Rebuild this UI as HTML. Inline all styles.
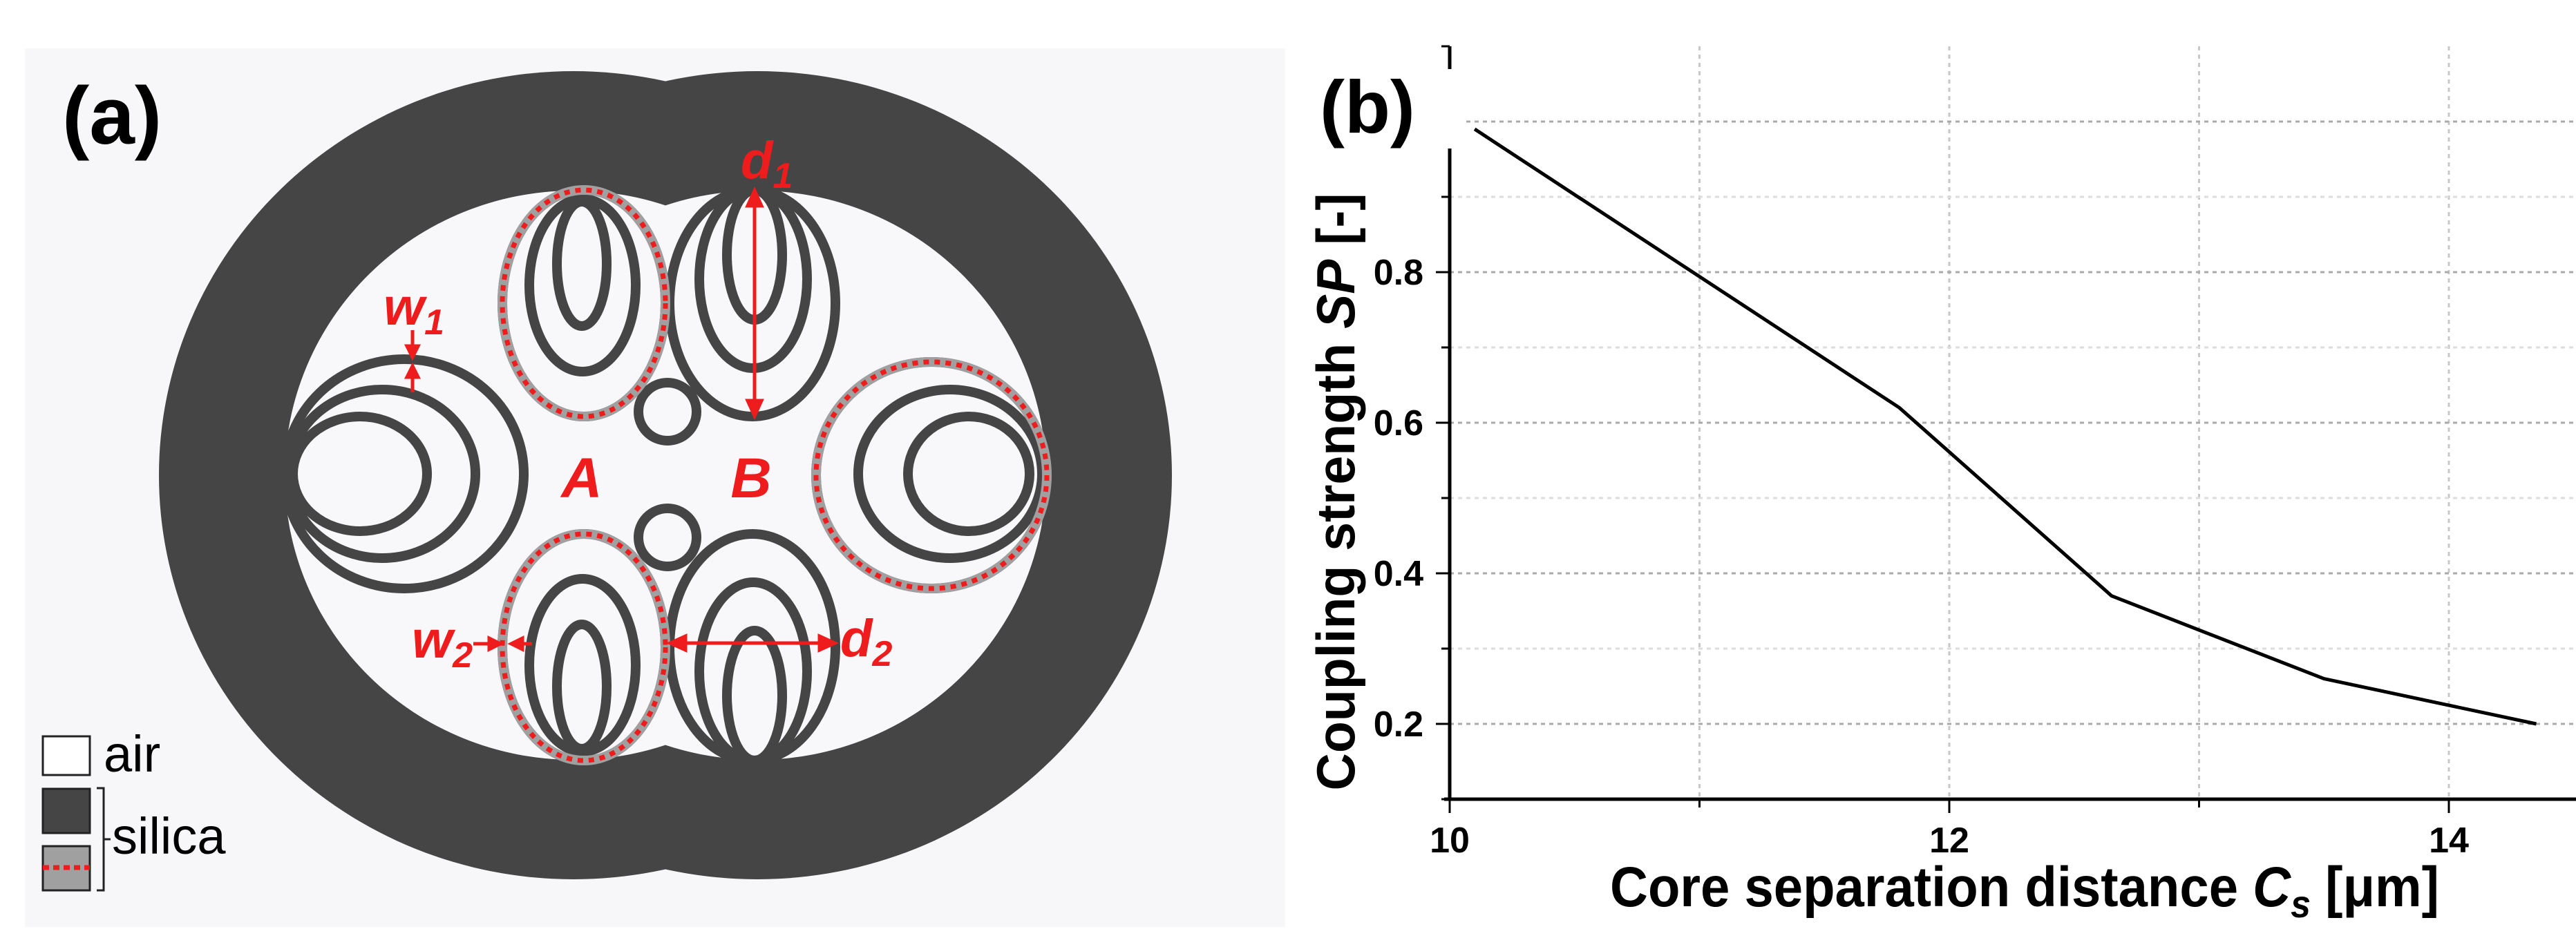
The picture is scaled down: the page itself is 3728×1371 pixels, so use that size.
<!DOCTYPE html>
<html><head><meta charset="utf-8"><style>
html,body{margin:0;padding:0;background:#fff;}
svg{display:block;}
text{font-family:"Liberation Sans",sans-serif;}
</style></head><body>
<svg id="fig" width="3728" height="1371" viewBox="0 0 3728 1371" xmlns="http://www.w3.org/2000/svg">
<rect x="0" y="0" width="3728" height="1371" fill="#ffffff"/>
<!-- Panel (a) -->
<g>
<rect x="36" y="70" width="1824" height="1272" fill="#f7f7f9"/>
<g fill="#454545">
<ellipse cx="830" cy="688" rx="600" ry="585"/>
<ellipse cx="1096" cy="688" rx="600" ry="585"/>
</g>
<g fill="#f8f8fb">
<ellipse cx="830" cy="688" rx="418" ry="412"/>
<ellipse cx="1096" cy="688" rx="418" ry="412"/>
</g>
<g fill="none" stroke="#454545" stroke-width="14">
<g>
<ellipse cx="845" cy="439" rx="118" ry="164"/>
<ellipse cx="843" cy="413" rx="77" ry="125"/>
<ellipse cx="842" cy="382" rx="36" ry="90"/>
</g>
<g>
<ellipse cx="1089" cy="439" rx="120" ry="164"/>
<ellipse cx="1090" cy="404" rx="78" ry="129"/>
<ellipse cx="1092" cy="369" rx="40" ry="94"/>
</g>
<g>
<ellipse cx="845" cy="937" rx="118" ry="164"/>
<ellipse cx="843" cy="963" rx="77" ry="125"/>
<ellipse cx="842" cy="994" rx="36" ry="90"/>
</g>
<g>
<ellipse cx="1089" cy="937" rx="120" ry="164"/>
<ellipse cx="1090" cy="972" rx="78" ry="129"/>
<ellipse cx="1092" cy="1007" rx="40" ry="94"/>
</g>
<g>
<ellipse cx="585" cy="686" rx="173" ry="166"/>
<ellipse cx="553" cy="686" rx="135" ry="122"/>
<ellipse cx="521" cy="686" rx="97" ry="83"/>
</g>
<g>
<ellipse cx="1348" cy="688" rx="167" ry="164"/>
<ellipse cx="1375" cy="686" rx="133" ry="122"/>
<ellipse cx="1402" cy="686" rx="88" ry="83"/>
</g>
<circle cx="966" cy="596" r="42"/>
<circle cx="966" cy="778" r="42"/>
</g>
<g fill="none" stroke="#a0a0a0" stroke-width="14">
<ellipse cx="845" cy="439" rx="118" ry="164"/>
<ellipse cx="845" cy="937" rx="118" ry="164"/>
<ellipse cx="1348" cy="688" rx="167" ry="164"/>
</g>
<g fill="none" stroke="#ee1c1c" stroke-width="7" stroke-dasharray="8 8">
<ellipse cx="845" cy="439" rx="118" ry="164"/>
<ellipse cx="845" cy="937" rx="118" ry="164"/>
<ellipse cx="1348" cy="688" rx="167" ry="164"/>
</g>
<g stroke="#ee1c1c" stroke-width="5" fill="#ee1c1c">
<line x1="1092" y1="290" x2="1092" y2="588"/>
<polygon points="1092,276 1082,298 1102,298"/>
<polygon points="1092,602 1082,580 1102,580"/>
<line x1="984" y1="931" x2="1194" y2="931"/>
<polygon points="970,931 992,921 992,941"/>
<polygon points="1208,931 1186,921 1186,941"/>
<line x1="597" y1="478" x2="597" y2="505"/>
<polygon points="597,517 589,501 605,501"/>
<line x1="597" y1="542" x2="597" y2="568"/>
<polygon points="597,530 589,546 605,546"/>
<line x1="685" y1="932" x2="710" y2="932"/>
<polygon points="724,932 708,924 708,940"/>
<line x1="752" y1="932" x2="770" y2="932"/>
<polygon points="740,932 756,924 756,940"/>
</g>
<g fill="#ee1c1c" font-weight="bold" font-style="italic">
<text x="842" y="720" font-size="82" text-anchor="middle">A</text>
<text x="1087" y="720" font-size="82" text-anchor="middle">B</text>
<text x="1072" y="258" font-size="76">d<tspan font-size="52" dy="14">1</tspan></text>
<text x="555" y="470" font-size="76">w<tspan font-size="52" dy="14">1</tspan></text>
<text x="596" y="952" font-size="76">w<tspan font-size="52" dy="14">2</tspan></text>
<text x="1216" y="950" font-size="76">d<tspan font-size="52" dy="14">2</tspan></text>
</g>
<text x="90" y="208" font-size="118" font-weight="bold" fill="#000">(a)</text>
<g>
<rect x="62" y="1066" width="68" height="56" fill="#fff" stroke="#222" stroke-width="3"/>
<text x="150" y="1117" font-size="74" fill="#000">air</text>
<rect x="62" y="1142" width="68" height="64" fill="#454545" stroke="#222" stroke-width="3"/>
<rect x="62" y="1225" width="68" height="64" fill="#a0a0a0" stroke="#222" stroke-width="3"/>
<line x1="62" y1="1256" x2="130" y2="1256" stroke="#ee1c1c" stroke-width="7" stroke-dasharray="9 6"/>
<path d="M140,1141 H150 V1289 H140 M150,1215 H160" fill="none" stroke="#222" stroke-width="3"/>
<text x="162" y="1236" font-size="74" fill="#000">silica</text>
</g>
</g>
<!-- Panel (b) -->
<g id="chart"></g>
</svg>
<script>
const xValues = [10.1, 11.8, 12.65, 13.5, 14.35];
const spValues = [0.99, 0.62, 0.37, 0.26, 0.2];
const xTickLabels = ["10", "12", "14"];
const yTickLabels = ["0.2", "0.4", "0.6", "0.8"];
const xTickValues = [10, 12, 14];
const yTickValues = [0.2, 0.4, 0.6, 0.8];

const NS = "http://www.w3.org/2000/svg";
const X0 = 2098, X1 = 3544, XMIN = 10, XMAX = 14;
const Y0 = 1048, Y1 = 176, YMIN = 0.2, YMAX = 1.0;
function sx(v){ return X0 + (v - XMIN) * (X1 - X0) / (XMAX - XMIN); }
function sy(v){ return Y0 + (v - YMIN) * (Y1 - Y0) / (YMAX - YMIN); }
const g = document.getElementById('chart');
function mk(tag, attrs, parent){
  const e = document.createElementNS(NS, tag);
  for (const k in attrs) e.setAttribute(k, attrs[k]);
  (parent || g).appendChild(e);
  return e;
}
const axisTop = sy(1.1), axisBot = sy(0.1), axisRight = 3728;
const grid = mk('g', {stroke:'#c8c8c8', 'stroke-width':3, 'stroke-dasharray':'6 6', fill:'none'});


for (let v = 11; v <= 14; v++) {
  const l = mk('line', {x1:sx(v), x2:sx(v), y1:axisTop, y2:axisBot}, grid);
  
  
}
for (let i = 2; i <= 10; i++) {
  const v = i / 10;
  const l = mk('line', {x1:X0, x2:axisRight, y1:sy(v), y2:sy(v), stroke: i % 2 === 0 ? '#aaaaaa' : '#dddddd'}, grid);
  
  
}
const ax = mk('g', {stroke:'#000', 'stroke-width':5, fill:'none'});


const yAxis = mk('line', {x1:X0, x2:X0, y1:axisTop, y2:axisBot + 2}, ax);


const xAxis = mk('line', {x1:X0 - 8, x2:axisRight, y1:axisBot, y2:axisBot}, ax);


for (let i = 1; i <= 11; i++) {
  const v = i / 10;
  const len = (i % 2 === 0) ? 20 : 12;
  const t = mk('line', {x1:X0 - len, x2:X0, y1:sy(v), y2:sy(v), 'stroke-width':3}, ax);
  
  
}
for (let v = 10; v <= 14; v++) {
  const len = (v % 2 === 0) ? 20 : 12;
  const t = mk('line', {x1:sx(v), x2:sx(v), y1:axisBot, y2:axisBot + len, 'stroke-width':3}, ax);
  
  
}
xTickValues.forEach((v, i) => {
  const t = mk('text', {x:sx(v), y:1234, 'font-size':52, 'font-weight':'bold', 'text-anchor':'middle', fill:'#000'});
  t.textContent = xTickLabels[i];
  
  
});
yTickValues.forEach((v, i) => {
  const t = mk('text', {x:2060, y:sy(v) + 18, 'font-size':52, 'font-weight':'bold', 'text-anchor':'end', fill:'#000'});
  t.textContent = yTickLabels[i];
  
  
});
const pts = xValues.map((x, i) => sx(x) + ',' + sy(spValues[i])).join(' ');
const line = mk('polyline', {points:pts, fill:'none', stroke:'#000', 'stroke-width':5, 'stroke-linejoin':'round'});


const xt = mk('text', {x:2330, y:1312, 'font-size':82, 'font-weight':'bold', fill:'#000', textLength:1200, lengthAdjust:'spacingAndGlyphs'});
xt.innerHTML = 'Core separation distance <tspan font-style="italic">C<tspan font-size="56" dy="16">s</tspan></tspan><tspan dy="-16"> [μm]</tspan>';


const yt = mk('text', {x:0, y:0, 'font-size':78, 'font-weight':'bold', fill:'#000', 'text-anchor':'middle', textLength:865, lengthAdjust:'spacingAndGlyphs', transform:'translate(1960,712) rotate(-90)'});
yt.innerHTML = 'Coupling strength <tspan font-style="italic">SP</tspan> [-]';


const bb = mk('rect', {x:1905, y:100, width:215, height:115, fill:'#fff'});


const bl = mk('text', {x:1910, y:192, 'font-size':108, 'font-weight':'bold', fill:'#000'});
bl.textContent = '(b)';


</script>
</body></html>
